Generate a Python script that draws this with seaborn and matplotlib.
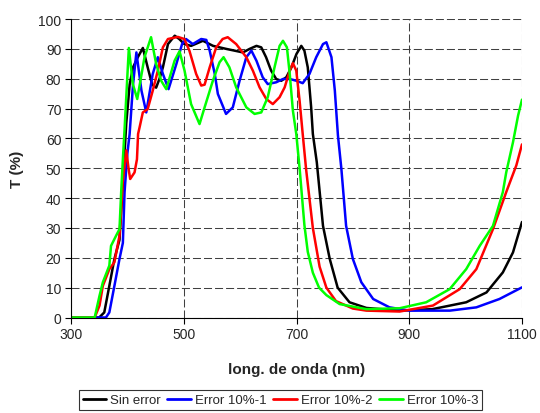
import numpy as np
import pandas as pd
import matplotlib
matplotlib.use("Agg")
import matplotlib.pyplot as plt
import seaborn as sns

# ---- data ----
series_names = ["Sin error", "Error 10%-1", "Error 10%-2", "Error 10%-3"]
series_colors = ["#000000", "#0000FF", "#FF0000", "#00FF00"]

sin_error_nm = [300, 350, 359, 368, 377, 386, 392, 398, 404, 410, 418, 427.5, 436, 444, 451, 457, 463, 472, 484, 492, 501, 513, 534, 552, 575, 605, 617, 629, 637.5, 646, 655, 664, 673, 682, 691, 700, 708.5, 714, 720, 726, 729, 736, 747, 759, 773, 794, 824, 883, 941, 1001, 1037, 1066, 1084, 1100]
sin_error_t = [0, 0, 1.7, 10.6, 19.6, 26, 45, 65, 78, 83.8, 87, 90.3, 83.8, 78, 77, 80, 83.8, 91.6, 94.4, 93.3, 91.6, 91, 92.7, 91, 90, 88.8, 90, 91, 90.5, 87.2, 82.7, 79.9, 79.3, 80.5, 83.8, 88.3, 91, 89.4, 83.8, 70.4, 61.5, 52, 30.7, 19.6, 10, 5.1, 3.2, 2.3, 2.8, 5.1, 8.4, 15.1, 21.8, 32]

err1_nm = [300, 362, 368, 377, 386, 392, 395, 400, 404, 410, 416, 425, 433.5, 445, 454, 463, 473, 487, 497, 504, 516, 531, 540, 546, 555, 560.5, 575, 587, 599, 611, 620, 629, 640, 649, 664, 676, 688, 700, 711, 723, 735, 747, 753, 762, 768, 773.5, 779.5, 788, 800, 815, 836, 865, 901, 972, 1019, 1060, 1100]
err1_t = [0, 0, 1.7, 10.6, 19.6, 25, 42, 55, 61.5, 78, 88.8, 76, 68.7, 81.6, 87.2, 81.6, 76.5, 85, 91.6, 93.3, 91.6, 93.3, 93, 89.4, 81.6, 74.9, 68.2, 70.4, 79.3, 87.2, 89.4, 86, 80.5, 78.2, 78.8, 79.9, 79.9, 79.3, 78.5, 81.6, 87.2, 91.6, 92.2, 87.2, 76, 61, 50, 30.7, 19.6, 11.8, 6.2, 3.4, 2.3, 2.3, 3.4, 6.2, 10.1]

err2_nm = [300, 342, 350.6, 356.5, 368, 377, 386, 389, 392, 398, 402, 405, 412.7, 417, 419, 422, 427.4, 436, 445, 454, 463, 472, 489.5, 501, 510, 522, 531, 537, 546, 557.6, 569, 578, 593, 611, 622.6, 634.5, 646.4, 658, 670, 679, 688, 693.6, 699.6, 705.5, 711, 717, 729, 741, 753, 770, 800, 824, 883, 942, 989.5, 1019, 1048.5, 1072, 1090, 1100]
err2_t = [0, 0, 4, 10.6, 16.2, 18.5, 27.4, 36.3, 46, 56, 50, 46.4, 48.6, 53, 61.5, 64, 68.7, 69.8, 76, 82.7, 90.5, 93.3, 94, 93.3, 89.4, 81.6, 77.7, 78, 83.8, 90.5, 93.3, 93.9, 91.6, 87.2, 82.7, 77.1, 73.2, 71.5, 73.8, 77.1, 82.7, 85.2, 82.7, 72.6, 61.5, 49.7, 30, 17, 10, 5.5, 3, 2.3, 2, 4, 9.5, 16.2, 29.6, 42, 51, 58]

err3_nm = [300, 342, 350.6, 356.5, 368, 371, 380, 386, 389, 392, 395, 402.6, 409.7, 417.5, 430.4, 442, 451, 460, 469, 483.7, 492.5, 501.4, 513, 528, 537, 551.6, 563.5, 570.6, 581, 593, 611, 625.6, 637.5, 649, 661, 670, 676, 683, 688, 693.6, 699.6, 705.5, 714, 720, 729, 740, 753, 776.5, 824, 883, 930, 971.7, 1001, 1025, 1048.5, 1066, 1072, 1084, 1093, 1100]
err3_t = [0, 0, 7.3, 11.8, 17.4, 24, 27.4, 29.6, 42, 53, 63, 90.3, 78.2, 73.2, 87.2, 93.9, 85, 79.3, 76.5, 86, 89.2, 82.7, 71.5, 64.8, 70.4, 79.3, 85.5, 87.2, 83.8, 77.1, 70.4, 68.2, 68.7, 73.8, 83.8, 91, 92.7, 90.5, 81.6, 69.3, 61.5, 50, 31, 22, 15, 10, 7.5, 4.5, 2.8, 3.1, 5.1, 9.5, 16.2, 24, 30.7, 42, 48.6, 58.7, 67.6, 73]

x_ticks = [300, 500, 700, 900, 1100]
y_ticks = [0, 10, 20, 30, 40, 50, 60, 70, 80, 90, 100]

frames = []
for name, nm, t in zip(series_names,
                       [sin_error_nm, err1_nm, err2_nm, err3_nm],
                       [sin_error_t, err1_t, err2_t, err3_t]):
    frames.append(pd.DataFrame({"nm": nm, "T": t, "serie": name}))
df = pd.concat(frames, ignore_index=True)

# ---- style ----
sns.set_style("white")
plt.rcParams["font.family"] = ["Liberation Sans", "DejaVu Sans"]

fig = plt.figure(figsize=(5.4, 4.14), dpi=100)
ax = fig.add_axes([71 / 540, 1 - 318.5 / 414, (522 - 71) / 540, (318.5 - 20) / 414])

sns.lineplot(data=df, x="nm", y="T", hue="serie", hue_order=series_names,
             palette=dict(zip(series_names, series_colors)),
             sort=False, estimator=None, linewidth=1.8, ax=ax)

ax.set_xlim(300, 1100)
ax.set_ylim(0, 100)
ax.set_xticks(x_ticks)
ax.set_yticks(y_ticks)
ax.tick_params(axis="both", direction="out", length=4, width=0.8, color="black",
               labelsize=10, pad=3, left=True, bottom=True)
ax.grid(True, linestyle=(0, (7.7, 2.9)), color="#404040", linewidth=0.75)
ax.set_axisbelow(True)
for s in ["top", "right"]:
    ax.spines[s].set_visible(False)
for s in ["left", "bottom"]:
    ax.spines[s].set_color("black")
    ax.spines[s].set_linewidth(0.8)

ax.set_xlabel("long. de onda (nm)", fontsize=11, fontweight="bold", labelpad=15)
ax.set_ylabel("T (%)", fontsize=11, fontweight="bold", labelpad=10)

handles, labels = ax.get_legend_handles_labels()
ax.get_legend().remove()
leg = fig.legend(handles, labels, loc="upper center",
                 bbox_to_anchor=((77.7 + 483.3) / 2 / 540, 1 - 391 / 414),
                 ncol=4, fontsize=9.5, frameon=True, fancybox=False,
                 handlelength=1.8, handletextpad=0.3, columnspacing=0.5,
                 borderpad=0.3, borderaxespad=0)
leg.get_frame().set_edgecolor("black")
leg.get_frame().set_linewidth(0.8)
for h in leg.get_lines():
    h.set_linewidth(2)

fig.savefig("out.png", dpi=100)
